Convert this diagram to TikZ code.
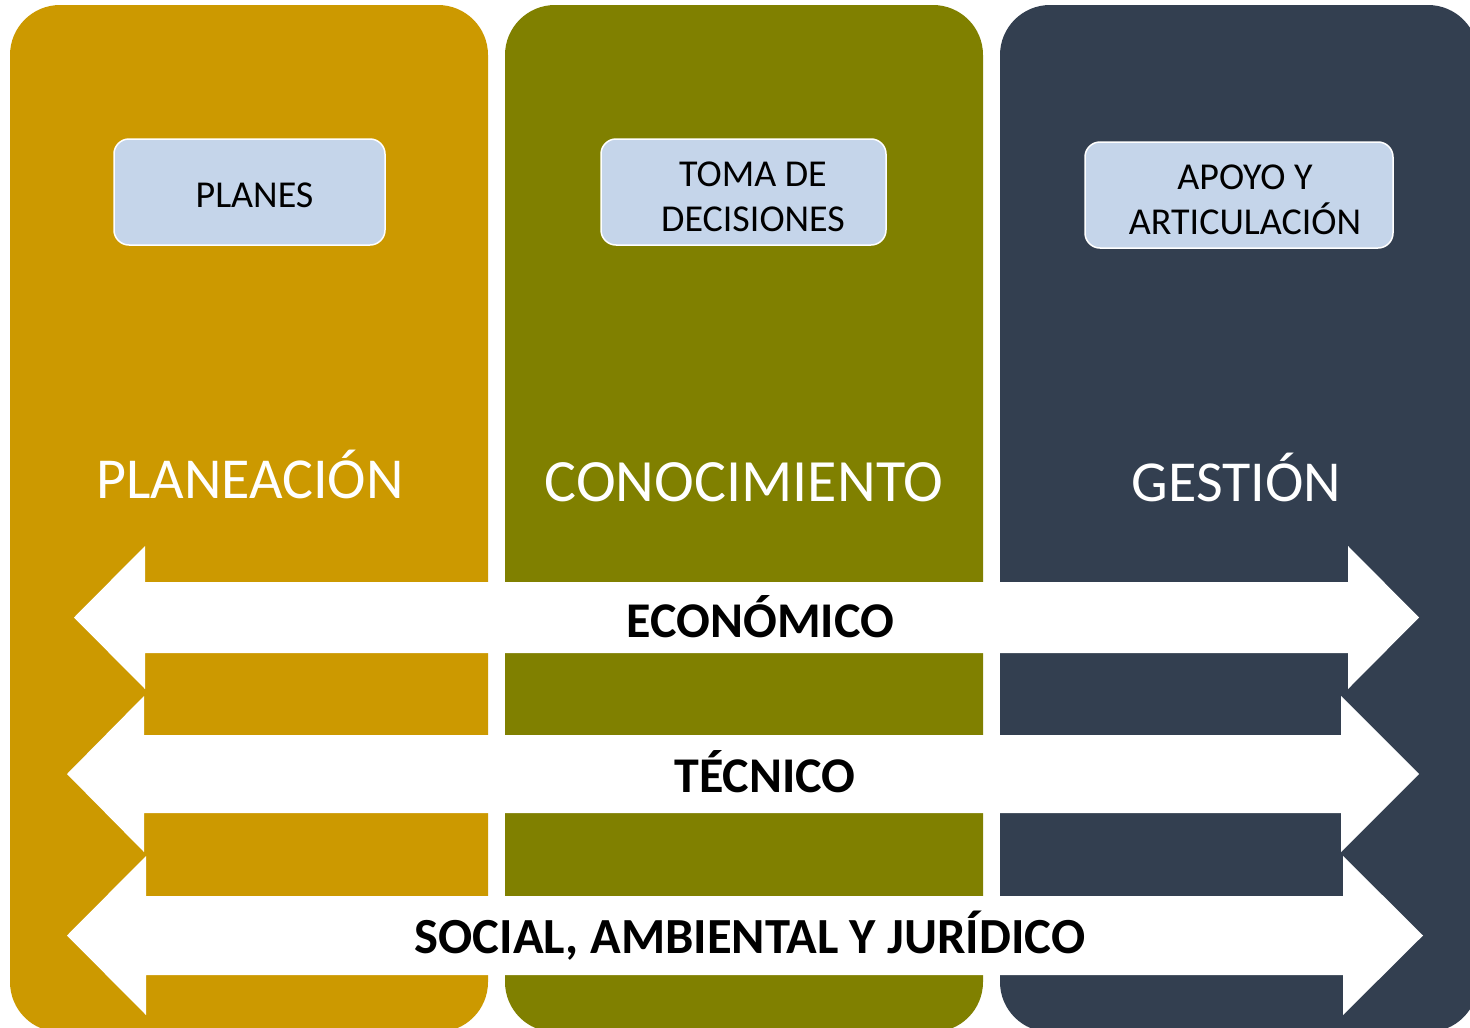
\documentclass[tikz,border=0pt]{standalone}
\usepackage{fontspec}
\setmainfont{Carlito}
\definecolor{colgold}{HTML}{CC9900}
\definecolor{cololive}{HTML}{808000}
\definecolor{colslate}{HTML}{333F50}
\definecolor{boxblue}{HTML}{C5D5EA}
\newcommand\myDblArrow[9]{%
  \fill[white] (#2,#6) -- (#3,#6) -- (#3,#5) -- (#4,#7) -- (#3,#9) -- (#3,#8)
    -- (#2,#8) -- (#2,#9) -- (#1,#7) -- (#2,#5) -- cycle;}
\tikzset{
  colbox/.style={minimum width=478pt, minimum height=1027pt, rounded corners=50pt,
    inner sep=0pt, draw=none},
  topbox/.style={fill=boxblue, draw=white, line width=1.5pt, rounded corners=15pt,
    inner sep=0pt},
  boxtext/.style={inner sep=0pt, align=center, font=\fontsize{38}{45}\selectfont},
  coltitle/.style={text=white, anchor=base, inner sep=0pt, font=\fontsize{58}{70}\selectfont},
  bandlabel/.style={text=black, anchor=base, inner sep=0pt, font=\bfseries\fontsize{50}{60}\selectfont}
}
\begin{document}
\begin{tikzpicture}[x=1pt,y=-1pt]
\useasboundingbox (0,0) rectangle (1470,1028);
\fill[white] (0,0) rectangle (1470,1028);
% columns
\node[colbox, fill=colgold]  (c1) at (249,518.5) {};
\node[colbox, fill=cololive] (c2) at (744,518.5) {};
\node[colbox, fill=colslate] (c3) at (1239,518.5) {};
% top boxes
\node[topbox, minimum width=271pt, minimum height=106pt] (b1) at (249.5,192) {};
\node[topbox, minimum width=285pt, minimum height=106pt] (b2) at (743.5,192) {};
\node[topbox, minimum width=308pt, minimum height=106pt] (b3) at (1239,195) {};
\node[boxtext] (bt1) at (254.5,195.5) {PLANES};
\node[boxtext] (bt2) at (753,196.5) {TOMA DE\\DECISIONES};
\node[boxtext] (bt3) at (1245,199.5) {APOYO Y\\ARTICULACIÓN};
% column titles
\node[coltitle] (t1) at (250,498) {PLANEACIÓN};
\node[coltitle, font=\fontsize{60}{72}\selectfont] (t2) at (744,501) {CONOCIMIENTO};
\node[coltitle] (t3) at (1236.5,501) {GESTIÓN};
% double arrows
\myDblArrow{74}{145}{1348}{1419}{546}{582}{617.5}{653}{689}
\myDblArrow{67}{144}{1341}{1419}{696}{735}{774}{813}{852}
\myDblArrow{67}{146}{1343}{1423}{856}{896}{935.5}{975}{1015}
% band labels
\node[bandlabel] (l1) at (760.5,637) {ECONÓMICO};
\node[bandlabel] (l2) at (765,792) {TÉCNICO};
\node[bandlabel, font=\bfseries\fontsize{50.6}{60}\selectfont] (l3) at (750,953) {SOCIAL, AMBIENTAL Y JURÍDICO};
\end{tikzpicture}
\end{document}
